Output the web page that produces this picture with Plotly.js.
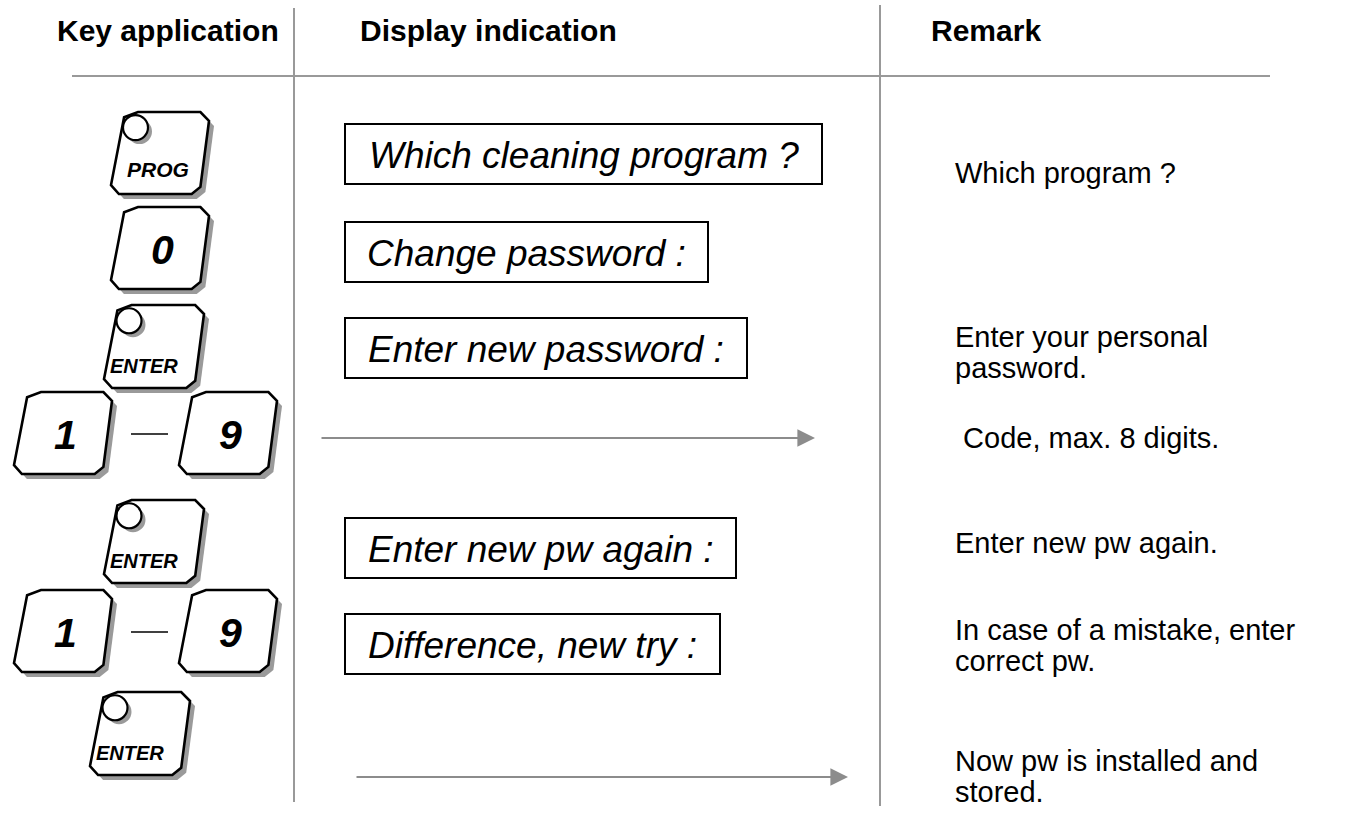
<!DOCTYPE html>
<html><head><meta charset="utf-8">
<script src="https://cdn.plot.ly/plotly-3.0.1.min.js"></script>
<style>html,body{margin:0;padding:0;background:#fff}</style>
</head><body><div id="chart" style="width:1355px;height:822px"></div>
<script>
// ---- content ----
const headers = ["Key application", "Display indication", "Remark"];
const keyLabels = ["PROG", "0", "ENTER", "1", "9", "ENTER", "1", "9", "ENTER"];
const keyHasLed = [true, false, true, false, false, true, false, false, true];
const displayTexts = ["Which cleaning program ?", "Change password :", "Enter new password :", "Enter new pw again :", "Difference, new try :"];
const remarks = ["Which program ?", "Enter your personal<br>password.", " Code, max. 8 digits.", "Enter new pw again.", "In case of a mistake, enter<br>correct pw.", "Now pw is installed and<br>stored."];

// ---- layout geometry (pixels) ----
const headerPos = [[168, 30], [488, 30], [986, 30]];
const keyGeom = [[111,112,98,82],[111,207,98,82],[104,305,100,83],[14,392,98,82],[179,392,98,82],[104,500,100,83],[14,590,98,82],[179,590,98,82],[90,692,100,83]];
const dashGeom = [[131,168,434],[131,168,632]];
const boxGeom = [[345,822,124,184],[345,708,222,282],[345,747,318,378],[345,736,518,578],[345,720,614,674]];
const arrowGeom = [[320,815,438],[355,848,777]];
const remarkPos = [[953,173],[953,352],[953,438],[953,543],[953,645],[953,776]];
const remarkLineGap = 31;

const FONT = "Liberation Sans, Arial, Helvetica, sans-serif";
const GRAY = "#999999";
const shapes = [];
const ann = [];

// frame lines
shapes.push({type:'line', x0:294, x1:294, y0:8, y1:802, line:{color:GRAY, width:2}});
shapes.push({type:'line', x0:880, x1:880, y0:5, y1:806, line:{color:GRAY, width:2}});
shapes.push({type:'line', x0:72, x1:1270, y0:76, y1:76, line:{color:GRAY, width:2}});

headers.forEach((h, i) => {
  ann.push({x: headerPos[i][0], y: headerPos[i][1], text: h, showarrow: false, xanchor: 'center', yanchor: 'middle',
    font: {family: FONT, size: 30, color: '#000', weight: 'bold'}});
});

const pts = [[0.134,0.065],[0.276,0],[0.912,0],[1,0.109],[0.912,0.913],[0.823,1],[0.081,1],[0,0.891]];
function keyPath(x, y, w, h) {
  return 'M' + pts.map(p => (x + p[0]*w).toFixed(1) + ',' + (y + p[1]*h).toFixed(1)).join(' L') + ' Z';
}

keyLabels.forEach((lab, i) => {
  const [x, y, w, h] = keyGeom[i];
  shapes.push({type:'path', path:keyPath(x+5, y+5, w, h), fillcolor:'#9a9a9a', line:{width:0}});
  shapes.push({type:'path', path:keyPath(x, y, w, h), fillcolor:'#ffffff', line:{color:'#000', width:2.6}});
  if (keyHasLed[i]) {
    const cx = x + 0.25*w, cy = y + 0.19*h, r = 12.5;
    shapes.push({type:'circle', x0:cx-r+4, x1:cx+r+4, y0:cy-r+4, y1:cy+r+4, fillcolor:'#9a9a9a', line:{width:0}});
    shapes.push({type:'circle', x0:cx-r, x1:cx+r, y0:cy-r, y1:cy+r, fillcolor:'#ffffff', line:{color:'#000', width:2.2}});
    const big = lab === 'PROG';
    ann.push({x: x + (big ? 0.48 : 0.4)*w, y: y + (big ? 0.7 : 0.74)*h, text: '<i>' + lab + '</i>', showarrow: false,
      xanchor:'center', yanchor:'middle', font:{family: FONT, size: big ? 21 : 20, color:'#000', weight:'bold'}});
  } else {
    ann.push({x: x + 0.53*w, y: y + 0.52*h, text: '<i>' + lab + '</i>', showarrow: false,
      xanchor:'center', yanchor:'middle', font:{family: FONT, size: 41, color:'#000', weight:'bold'}});
  }
});

dashGeom.forEach(d => shapes.push({type:'line', x0:d[0], x1:d[1], y0:d[2], y1:d[2], line:{color:'#000', width:1.5}}));

displayTexts.forEach((t, i) => {
  const [x0, x1, y0, y1] = boxGeom[i];
  shapes.push({type:'rect', x0, x1, y0, y1, fillcolor:'#fff', line:{color:'#000', width:2}});
  ann.push({x: (x0+x1)/2, y: (y0+y1)/2 + 1, text: '<i>' + t + '</i>', showarrow:false, xanchor:'center', yanchor:'middle',
    font:{family: FONT, size: 37, color:'#000'}});
});

arrowGeom.forEach(a => {
  ann.push({x:a[1], y:a[2], ax:a[0], ay:a[2], axref:'x', ayref:'y', xref:'x', yref:'y', text:'', showarrow:true,
    arrowhead:2, arrowsize:1.6, arrowwidth:2.2, arrowcolor:'#8c8c8c', standoff:0});
});

remarks.forEach((r, i) => {
  const lines = r.split('<br>');
  const [x, yc] = remarkPos[i];
  const top = yc - (lines.length - 1) * remarkLineGap / 2;
  lines.forEach((ln, j) => {
    ann.push({x: x, y: top + j*remarkLineGap, text: ln.replace(/^ /, '&nbsp;'), showarrow:false, xanchor:'left', yanchor:'middle',
      font:{family: FONT, size: 29, color:'#000'}});
  });
});

const layout = {
  width: 1355, height: 822,
  margin: {l:0, r:0, t:0, b:0},
  paper_bgcolor: '#fff', plot_bgcolor: '#fff',
  xaxis: {range:[0,1355], visible:false, fixedrange:true},
  yaxis: {range:[822,0], visible:false, fixedrange:true},
  shapes: shapes, annotations: ann, showlegend:false
};
Plotly.newPlot('chart', [], layout, {displayModeBar:false, staticPlot:true});
</script></body></html>
